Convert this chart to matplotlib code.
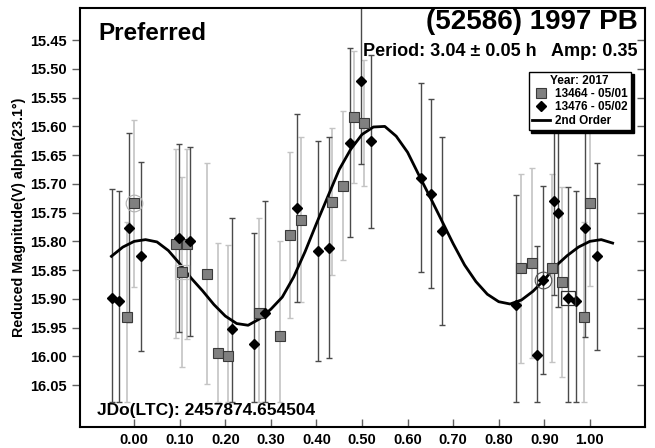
import numpy as np
import matplotlib
matplotlib.use("Agg")
import matplotlib.pyplot as plt
from matplotlib.lines import Line2D

plt.rcParams["font.family"] = ["Liberation Sans", "DejaVu Sans"]
plt.rcParams["font.weight"] = "bold"

# session 13464 - 05/01 (squares)
sq_phase = [-0.015, 0.000, 0.092, 0.106, 0.115, 0.160, 0.183, 0.206, 0.274, 0.320,
            0.343, 0.367, 0.435, 0.459, 0.482, 0.505, 0.848, 0.872, 0.918, 0.939,
            0.987, 1.000]
sq_mag = [15.931, 15.734, 15.804, 15.853, 15.805, 15.856, 15.995, 16.000, 15.925, 15.964,
          15.789, 15.762, 15.731, 15.703, 15.584, 15.594, 15.847, 15.838, 15.846, 15.871,
          15.931, 15.733]
sq_err = [0.165, 0.145, 0.165, 0.165, 0.165, 0.193, 0.193, 0.193, 0.165, 0.165,
          0.145, 0.144, 0.128, 0.129, 0.115, 0.110, 0.165, 0.165, 0.164, 0.165,
          0.165, 0.145]

# session 13476 - 05/02 (diamonds)
dm_phase = [-0.048, -0.034, -0.011, 0.014, 0.099, 0.122, 0.215, 0.263, 0.286, 0.358,
            0.404, 0.427, 0.473, 0.497, 0.519, 0.629, 0.651, 0.675, 0.838, 0.885,
            0.898, 0.921, 0.930, 0.952, 0.969, 0.989, 1.015]
dm_mag = [15.899, 15.903, 15.776, 15.826, 15.794, 15.800, 15.953, 15.978, 15.924, 15.742,
          15.817, 15.811, 15.628, 15.521, 15.626, 15.689, 15.717, 15.782, 15.911, 15.998,
          15.867, 15.729, 15.750, 15.899, 15.903, 15.776, 15.826]
dm_err = [0.190, 0.190, 0.165, 0.164, 0.164, 0.164, 0.194, 0.193, 0.194, 0.164,
          0.192, 0.192, 0.164, 0.144, 0.150, 0.164, 0.164, 0.164, 0.192, 0.190,
          0.164, 0.164, 0.164, 0.193, 0.190, 0.190, 0.163]

# 2nd order fit curve
fit_phase = [-0.050, -0.025, 0.000, 0.025, 0.050, 0.075, 0.100, 0.125, 0.150, 0.175,
             0.200, 0.225, 0.250, 0.275, 0.300, 0.325, 0.350, 0.375, 0.400, 0.425,
             0.450, 0.475, 0.500, 0.525, 0.550, 0.575, 0.600, 0.625, 0.650, 0.675,
             0.700, 0.725, 0.750, 0.775, 0.800, 0.825, 0.850, 0.875, 0.900, 0.925,
             0.950, 0.975, 1.000, 1.025, 1.050]
fit_mag = [15.826, 15.810, 15.800, 15.797, 15.801, 15.816, 15.839, 15.864, 15.886, 15.910,
           15.930, 15.943, 15.946, 15.935, 15.918, 15.897, 15.862, 15.818, 15.769, 15.722,
           15.675, 15.640, 15.614, 15.601, 15.600, 15.617, 15.645, 15.685, 15.724, 15.764,
           15.804, 15.841, 15.870, 15.892, 15.905, 15.909, 15.902, 15.887, 15.867, 15.843,
           15.825, 15.810, 15.800, 15.797, 15.803]

# circled / boxed points
circled = [(0.000, 15.734, "#b0b0b0"), (0.898, 15.867, "#505050")]
boxed = [(0.106, 15.853, "#c0c0c0"), (0.952, 15.899, "#303030")]

ERR_CLIP = 16.08

def clipped_err(mag, err):
    mag = np.array(mag)
    err = np.array(err)
    low = np.minimum(mag + err, ERR_CLIP) - mag
    return [err, low]

fig = plt.figure(figsize=(6.55, 4.48), dpi=100)
ax = fig.add_axes([0.1221, 0.0469, 0.8626, 0.9352])

ax.errorbar(sq_phase, sq_mag, yerr=clipped_err(sq_mag, sq_err), fmt="none",
            ecolor="#c4c4c4", elinewidth=1.2, capsize=2.5, capthick=1, zorder=2)
ax.errorbar(dm_phase, dm_mag, yerr=clipped_err(dm_mag, dm_err), fmt="none",
            ecolor="#4a4a4a", elinewidth=1.0, capsize=2.5, capthick=1, zorder=2)

ax.plot(fit_phase, fit_mag, color="black", lw=2.0, zorder=3)

ax.plot(sq_phase, sq_mag, ls="none", marker="s", ms=7, mfc="#808080", mec="#3a3a3a",
        mew=0.8, zorder=4)
ax.plot(dm_phase, dm_mag, ls="none", marker="D", ms=5.5, mfc="black", mec="black",
        zorder=5)

for x, y, c in circled:
    ax.plot(x, y, ls="none", marker="o", ms=12, mfc="none", mec=c, mew=0.8, zorder=6)
for x, y, c in boxed:
    ax.plot(x, y, ls="none", marker="s", ms=10, mfc="none", mec=c, mew=0.9, zorder=6)

ax.set_xlim(-0.119, 1.121)
ax.set_ylim(16.123, 15.394)

ax.set_xticks(np.arange(0, 1.01, 0.1))
ax.set_xticklabels([f"{v:.2f}" for v in np.arange(0, 1.01, 0.1)])
ax.set_yticks(np.arange(15.45, 16.051, 0.05))
ax.set_yticklabels([f"{v:.2f}" for v in np.arange(15.45, 16.051, 0.05)])
ax.tick_params(axis="y", which="both", direction="out", length=6, width=1,
               right=True, labelsize=10.5, color="#606060")
ax.tick_params(axis="x", direction="in", length=6, width=1, labelsize=10.5,
               pad=4, color="#606060")
for lab in ax.get_xticklabels() + ax.get_yticklabels():
    lab.set_fontweight("bold")
# right ticks point inward
for t in ax.yaxis.get_major_ticks():
    t.tick2line.set_marker(matplotlib.lines.TICKLEFT)

for s in ax.spines.values():
    s.set_linewidth(1.5)
    s.set_color("black")

ax.set_ylabel("Reduced Magnitude(V) alpha(23.1°)", fontsize=10.3, fontweight="bold",
              labelpad=3)

ax.text(0.032, 0.94, "Preferred", transform=ax.transAxes, fontsize=17.5,
        fontweight="bold", va="center", ha="left")
ax.text(0.988, 0.967, "(52586) 1997 PB", transform=ax.transAxes, fontsize=20,
        fontweight="bold", va="center", ha="right")
ax.text(0.986, 0.897, "Period: 3.04 \u00b1 0.05 h   Amp: 0.35", transform=ax.transAxes,
        fontsize=13, fontweight="bold", va="center", ha="right")
ax.text(0.030, 0.04, "JDo(LTC): 2457874.654504", transform=ax.transAxes,
        fontsize=12.5, fontweight="bold", va="center", ha="left")

handles = [
    Line2D([], [], ls="none", marker="s", ms=7, mfc="#808080", mec="#3a3a3a", mew=0.8),
    Line2D([], [], ls="none", marker="D", ms=5.5, mfc="black", mec="black"),
    Line2D([], [], color="black", lw=2),
]
leg = ax.legend(handles, ["13464 - 05/01", "13476 - 05/02", "2nd Order"],
                title="Year: 2017", loc="upper right", bbox_to_anchor=(0.975, 0.848),
                fontsize=8.5, title_fontsize=8.5, fancybox=False, framealpha=1,
                edgecolor="black", handlelength=1.6, handletextpad=0.4,
                borderpad=0.25, labelspacing=0.12, borderaxespad=0,
                shadow={"color": "black", "alpha": 1})
leg.get_title().set_fontweight("bold")
leg.get_frame().set_linewidth(1.0)
for t in leg.get_texts():
    t.set_fontweight("bold")

fig.savefig("out.png", dpi=100)
